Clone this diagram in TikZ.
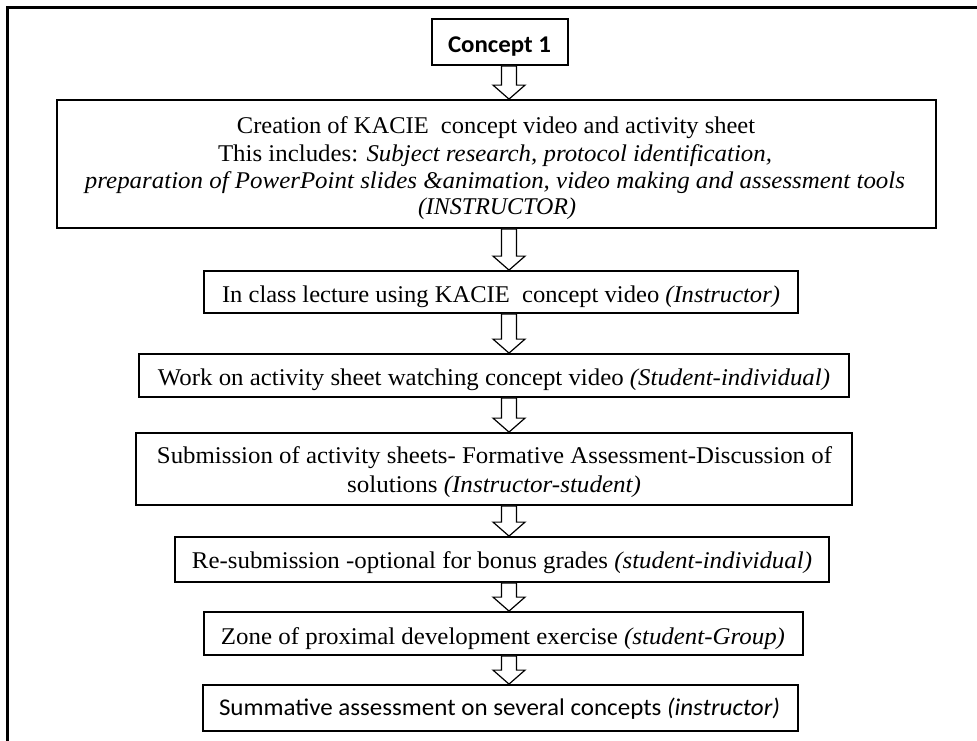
\documentclass[tikz,border=0pt]{standalone}
\usepackage{fontspec}
\setmainfont{Liberation Serif}
\newfontfamily\carl{Carlito}
\usetikzlibrary{calc}
\newcommand\fitline[2]{\resizebox{#1}{\height}{#2}}
\tikzset{
  box/.style={draw=black, line width=1.8pt, fill=white, inner sep=0pt},
  txt/.style={anchor=base, inner sep=0pt, font=\fontsize{24}{28}\selectfont},
  frame/.style={draw=black, line width=3pt},
  blockarr/.style={draw=black, line width=1.2pt, fill=white, line join=miter,
    to path={let \p1=(\tikztostart), \p2=(\tikztotarget) in
      (\x1-7.5pt,\y1) -- (\x1-7.5pt,\y2+14pt) -- (\x1-16pt,\y2+14pt) -- (\x1,\y2)
      -- (\x1+16pt,\y2+14pt) -- (\x1+7.5pt,\y2+14pt) -- (\x1+7.5pt,\y1) -- cycle}}
}
\begin{document}
\begin{tikzpicture}[x=1pt,y=-1pt]
\useasboundingbox (0,0) rectangle (977,740);
\fill[white] (0,0) rectangle (977,740);
% frame
\coordinate (fbl) at (7,741);
\coordinate (ftl) at (7,7);
\coordinate (ftr) at (978,7);
\draw[frame] (fbl) -- (ftl) -- (ftr);
% boxes
\node[box, minimum width=136pt, minimum height=46pt] (c0) at (500,42) {};
\node[box, minimum width=879pt, minimum height=128pt] (b1) at (496.5,164) {};
\node[box, minimum width=594pt, minimum height=42pt] (b2) at (501,292) {};
\node[box, minimum width=710pt, minimum height=43pt] (b3) at (494,375.5) {};
\node[box, minimum width=716pt, minimum height=72pt] (b4) at (494,469) {};
\node[box, minimum width=654pt, minimum height=45pt] (b5) at (502,559.5) {};
\node[box, minimum width=599pt, minimum height=43pt] (b6) at (503.5,633.5) {};
\node[box, minimum width=595pt, minimum height=46pt] (b7) at (500.5,708) {};
% texts
\node[txt] (t0) at (499.5,52) {\fitline{103pt}{\carl\bfseries Concept 1}};
\node[txt] (t1a) at (496,133) {\fitline{518pt}{Creation of KACIE\ \ concept video and activity sheet}};
\node[txt] (t1b) at (495,161) {\fitline{554pt}{This includes: \textit{Subject research, protocol identification,}}};
\node[txt] (t1c) at (495,188) {\fitline{820pt}{\textit{preparation of PowerPoint slides \&animation, video making and assessment tools}}};
\node[txt] (t1d) at (497,214) {\fitline{158pt}{\textit{(INSTRUCTOR)}}};
\node[txt] (t2) at (501,302) {\fitline{558pt}{In class lecture using KACIE\ \ concept video \textit{(Instructor)}}};
\node[txt] (t3) at (494,385) {\fitline{672pt}{Work on activity sheet watching concept video \textit{(Student-individual)}}};
\node[txt] (t4a) at (494.5,463) {\fitline{675pt}{Submission of activity sheets- Formative Assessment-Discussion of}};
\node[txt] (t4b) at (494,492) {\fitline{294pt}{solutions \textit{(Instructor-student)}}};
\node[txt] (t5) at (502,568) {\fitline{620pt}{Re-submission -optional for bonus grades \textit{(student-individual)}}};
\node[txt] (t6) at (503,644) {\fitline{564pt}{Zone of proximal development exercise \textit{(student-Group)}}};
\node[txt] (t7) at (499.5,715) {\fitline{561pt}{\carl Summative assessment on several concepts \textit{(instructor)}}};
% arrows
\coordinate (ax) at (509,0);
\draw[blockarr] (c0.south -| ax) to (b1.north -| ax);
\draw[blockarr] (b1.south -| ax) to (b2.north -| ax);
\draw[blockarr] (b2.south -| ax) to (b3.north -| ax);
\draw[blockarr] (b3.south -| ax) to (b4.north -| ax);
\draw[blockarr] (b4.south -| ax) to (b5.north -| ax);
\draw[blockarr] (b5.south -| ax) to (b6.north -| ax);
\draw[blockarr] (b6.south -| ax) to (b7.north -| ax);
\end{tikzpicture}
\end{document}
